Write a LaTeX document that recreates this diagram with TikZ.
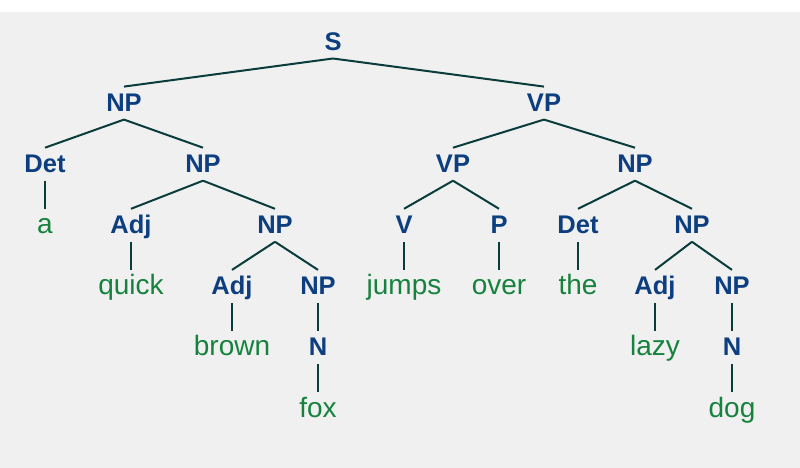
\documentclass[tikz,border=0pt]{standalone}
\usepackage{fontspec}
\setmainfont{Liberation Sans}
\definecolor{labblue}{RGB}{12,62,128}
\definecolor{leafgreen}{RGB}{22,130,62}
\definecolor{linecol}{RGB}{10,60,60}
\definecolor{bggray}{RGB}{240,240,240}
\begin{document}
\begin{tikzpicture}[x=1pt,y=1pt,
 lab/.style={anchor=base,inner sep=0pt,font=\fontsize{25.5}{30}\selectfont\bfseries,text=labblue},
 leaf/.style={anchor=base,inner sep=0pt,font=\fontsize{28}{33}\selectfont,text=leafgreen},
 br/.style={draw=linecol,line width=2pt}]
\useasboundingbox (0,0) rectangle (800,468);
\fill[white] (0,0) rectangle (800,468);
\fill[bggray] (0,0) rectangle (800,456);
% row 0
\node[lab] (S) at (333,417.5) {S};
% row 1
\node[lab] (NPa) at (124,356.4) {NP};
\node[lab] (VPa) at (544,356.4) {VP};
% row 2
\node[lab] (Deta) at (45,295.3) {Det};
\node[lab] (NPb) at (203,295.3) {NP};
\node[lab] (VPb) at (453,295.3) {VP};
\node[lab] (NPe) at (635,295.3) {NP};
% row 3
\node[leaf] (a) at (45,234.2) {a};
\node[lab] (Adja) at (131,234.2) {Adj};
\node[lab] (NPc) at (275,234.2) {NP};
\node[lab] (V) at (404,234.2) {V};
\node[lab] (P) at (499,234.2) {P};
\node[lab] (Detb) at (578,234.2) {Det};
\node[lab] (NPf) at (692,234.2) {NP};
% row 4
\node[leaf] (quick) at (131,173.1) {quick};
\node[lab] (Adjb) at (232,173.1) {Adj};
\node[lab] (NPd) at (318,173.1) {NP};
\node[leaf] (jumps) at (404,173.1) {jumps};
\node[leaf] (over) at (499,173.1) {over};
\node[leaf] (the) at (578,173.1) {the};
\node[lab] (Adjc) at (655,173.1) {Adj};
\node[lab] (NPg) at (732,173.1) {NP};
% row 5
\node[leaf] (brown) at (232,112) {brown};
\node[lab] (Na) at (318,112) {N};
\node[leaf] (lazy) at (655,112) {lazy};
\node[lab] (Nb) at (732,112) {N};
% row 6
\node[leaf] (fox) at (318,50.9) {fox};
\node[leaf] (dog) at (732,50.9) {dog};
\foreach \p/\c in {S/NPa,S/VPa,NPa/Deta,NPa/NPb,VPa/VPb,VPa/NPe,
  Deta/a,NPb/Adja,NPb/NPc,VPb/V,VPb/P,NPe/Detb,NPe/NPf,
  Adja/quick,NPc/Adjb,NPc/NPd,V/jumps,P/over,Detb/the,NPf/Adjc,NPf/NPg,
  Adjb/brown,NPd/Na,Adjc/lazy,NPg/Nb,Na/fox,Nb/dog}
  \draw[br] ([yshift=-8pt]\p.base) -- ([yshift=25pt]\c.base);
\end{tikzpicture}
\end{document}
